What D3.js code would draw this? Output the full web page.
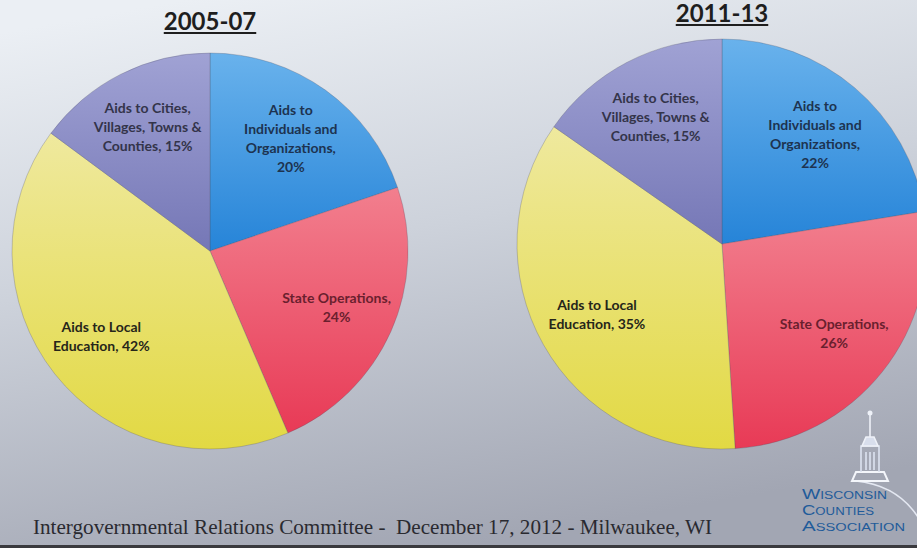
<!DOCTYPE html>
<html>
<head>
<meta charset="utf-8">
<script src="https://cdn.jsdelivr.net/npm/d3@7"></script>
<style>
    html, body { margin: 0; padding: 0; overflow: hidden; }
    svg { display: block; }
</style>
</head>
<body>
<svg id="chart" width="917" height="548"></svg>
<script>
// slice order, clockwise from 12 o'clock
var categories = ['Aids to Individuals and Organizations', 'State Operations', 'Aids to Local Education', 'Aids to Cities, Villages, Towns & Counties'];

// wrapped label lines, same order as categories
var labelLines = [
    ['Aids to', 'Individuals and', 'Organizations,'],
    ['State Operations,'],
    ['Aids to Local', 'Education,'],
    ['Aids to Cities,', 'Villages, Towns &', 'Counties,']
];
// whether the percent shares the last line of the label
var percentInline = [false, false, true, true];

var periods = ['2005-07', '2011-13'];
var values0507 = [20, 24, 42, 15];
var values1113 = [22, 26, 35, 15];

var footerText = 'Intergovernmental Relations Committee -  December 17, 2012 - Milwaukee, WI';
var logoLines = ['Wisconsin', 'Counties', 'Association'];


var svg = d3.select('#chart'),
    W = 917,
    H = 548,
    defs = svg.append('defs');

var sliceColors = [
    { top: '#69b2ec', bottom: '#2684d8', text: '#1d3350' },
    { top: '#f27f8e', bottom: '#e83a56', text: '#6a1f2e' },
    { top: '#efe99e', bottom: '#e2d943', text: '#26261a' },
    { top: '#a0a2d4', bottom: '#7577b6', text: '#33344a' }
];

// slide background
var bg = defs.append('linearGradient')
    .attr('id', 'bg')
    .attr('x1', 0.2).attr('y1', 0)
    .attr('x2', 0.5).attr('y2', 1);
bg.append('stop').attr('offset', 0).attr('stop-color', '#ebeff4');
bg.append('stop').attr('offset', 0.45).attr('stop-color', '#cdd2db');
bg.append('stop').attr('offset', 1).attr('stop-color', '#a2a6b3');

svg.append('rect')
    .attr('width', W)
    .attr('height', H)
    .attr('fill', 'url(#bg)');

sliceColors.forEach(function(c, i) {
    var g = defs.append('linearGradient')
        .attr('id', 'slice' + i)
        .attr('x1', 0).attr('y1', 0)
        .attr('x2', 0).attr('y2', 1);
    g.append('stop').attr('offset', 0).attr('stop-color', c.top);
    g.append('stop').attr('offset', 1).attr('stop-color', c.bottom);
});


function drawPie(values, title, cx, cy, r, titleY) {
    var pie = d3.pie().sort(null).value(function(d) { return d; }),
        arc = d3.arc().innerRadius(0).outerRadius(r),
        labelArc = d3.arc().innerRadius(r * 0.7).outerRadius(r * 0.7);

    var g = svg.append('g')
        .attr('transform', 'translate(' + cx + ',' + cy + ')');

    var arcs = pie(values);

    g.selectAll('path.slice')
        .data(arcs)
        .enter()
        .append('path')
        .attr('class', 'slice')
        .attr('d', arc)
        .attr('fill', function(d, i) { return 'url(#slice' + i + ')'; })
        .attr('stroke', 'rgba(80,80,100,0.35)')
        .attr('stroke-width', 0.8);

    var labels = g.selectAll('text.label')
        .data(arcs)
        .enter()
        .append('text')
        .attr('class', 'label')
        .attr('text-anchor', 'middle')
        .attr('font-family', 'Lato, "Open Sans", sans-serif')
        .attr('font-weight', 700)
        .attr('font-size', 14)
        .attr('fill', function(d, i) { return sliceColors[i].text; })
        .attr('transform', function(d) {
            var c = labelArc.centroid(d);
            return 'translate(' + c[0] + ',' + c[1] + ')';
        });

    labels.each(function(d, i) {
        var lines = labelLines[i].slice(),
            last = lines.length - 1,
            lh = 19,
            sel = d3.select(this);

        if (percentInline[i]) {
            lines[last] = lines[last] + ' ' + d.data + '%';
        } else {
            lines.push(d.data + '%');
        }
        var y0 = -((lines.length - 1) * lh) / 2 + 5;
        lines.forEach(function(t, k) {
            sel.append('tspan')
                .attr('x', 0)
                .attr('y', y0 + k * lh)
                .text(t);
        });
    });

    var t = svg.append('text')
        .attr('x', cx)
        .attr('y', titleY)
        .attr('text-anchor', 'middle')
        .attr('font-family', 'Lato, "Open Sans", sans-serif')
        .attr('font-weight', 700)
        .attr('font-size', 24)
        .attr('fill', '#1e1e1e')
        .text(title);

    var w = t.node().getComputedTextLength();
    svg.append('line')
        .attr('x1', cx - w / 2)
        .attr('x2', cx + w / 2)
        .attr('y1', titleY + 3)
        .attr('y2', titleY + 3)
        .attr('stroke', '#1e1e1e')
        .attr('stroke-width', 2);
}

drawPie(values0507, periods[0], 210, 251, 198, 30);
drawPie(values1113, periods[1], 722, 244, 205, 22);


// footer
svg.append('text')
    .attr('x', 33)
    .attr('y', 534)
    .attr('font-family', '"Liberation Serif", "DejaVu Serif", serif')
    .attr('font-size', 21)
    .attr('fill', '#2a2a30')
    .attr('textLength', 679)
    .attr('lengthAdjust', 'spacingAndGlyphs')
    .attr('xml:space', 'preserve')
    .text(footerText);

svg.append('rect')
    .attr('x', 0)
    .attr('y', 545)
    .attr('width', W)
    .attr('height', 3)
    .attr('fill', '#3a3a3e');


// logo: capitol dome sketch + name
var logo = svg.append('g').attr('class', 'logo');

logo.append('path')
    .attr('d', 'M 856,481 Q 905,486 925,530')
    .attr('fill', 'none')
    .attr('stroke', '#e4e8f2')
    .attr('stroke-width', 1.5);

logo.append('path')
    .attr('d', 'M 852,481 L 888,481 L 884,472 L 856,472 Z')
    .attr('fill', 'none')
    .attr('stroke', '#f4f6fb')
    .attr('stroke-width', 2);

logo.append('path')
    .attr('d', 'M 861,472 L 861,446 L 879,446 L 879,472 M 866,470 L 866,452 M 870,470 L 870,452 M 874,470 L 874,452')
    .attr('fill', 'none')
    .attr('stroke', '#dde3f0')
    .attr('stroke-width', 1.6);

logo.append('path')
    .attr('d', 'M 862,446 L 866,437 L 874,437 L 878,446 Z M 870,437 L 870,412')
    .attr('fill', '#d8deec')
    .attr('stroke', '#eef1f8')
    .attr('stroke-width', 1.6);

logo.append('circle')
    .attr('cx', 870)
    .attr('cy', 413)
    .attr('r', 2.5)
    .attr('fill', '#eef1f8');

logo.selectAll('text')
    .data(logoLines)
    .enter()
    .append('text')
    .attr('x', 802)
    .attr('y', function(d, i) { return 499 + i * 16; })
    .attr('font-family', '"Liberation Sans", "DejaVu Sans", sans-serif')
    .attr('font-size', 14)
    .attr('font-variant', 'small-caps')
    .attr('fill', '#1f5b9a')
    .attr('textLength', function(d, i) { return [85, 72, 103][i]; })
    .attr('lengthAdjust', 'spacingAndGlyphs')
    .text(function(d) { return d; });
</script>
</body>
</html>
